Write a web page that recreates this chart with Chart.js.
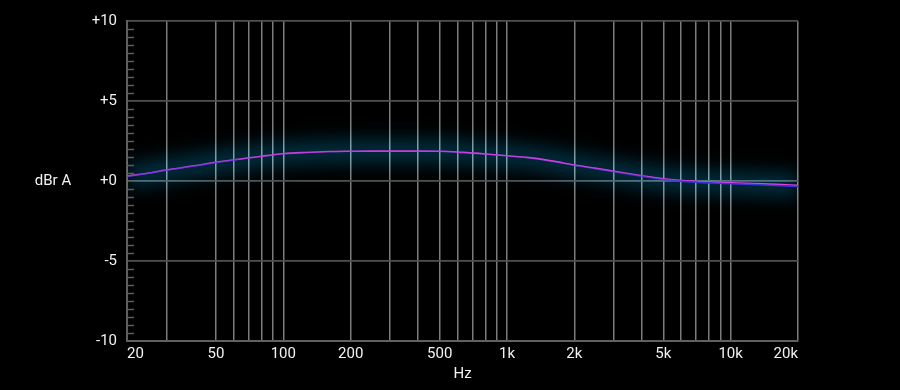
<!DOCTYPE html>
<html>
<head>
<meta charset="utf-8">
<script src="https://cdn.jsdelivr.net/npm/chart.js@4.4.1/dist/chart.umd.min.js"></script>
<style>
  html, body { margin: 0; padding: 0; background: #000; }
  #wrap { width: 900px; height: 390px; position: relative; }
</style>
</head>
<body>
<div id="wrap"><canvas id="fr"></canvas></div>
<script>
// frequency response, dBr A vs Hz
const freqs = [20, 25, 30, 40, 50, 63, 80, 100, 125, 160, 200, 250, 315, 400, 500, 630, 800,
  1000, 1250, 1600, 2000, 2500, 3150, 4000, 5000, 6300, 8000, 10000, 12500, 16000, 20000];
const leftCh = [0.30, 0.50, 0.69, 0.95, 1.17, 1.36, 1.55, 1.70, 1.78, 1.84, 1.86, 1.87, 1.87, 1.87, 1.86, 1.79, 1.69,
  1.58, 1.46, 1.24, 1.00, 0.79, 0.56, 0.33, 0.14, 0.02, -0.06, -0.11, -0.16, -0.21, -0.27];
const rightCh = [0.27, 0.48, 0.67, 0.94, 1.15, 1.34, 1.53, 1.69, 1.77, 1.83, 1.85, 1.86, 1.86, 1.86, 1.85, 1.77, 1.67,
  1.56, 1.43, 1.21, 0.97, 0.75, 0.52, 0.29, 0.09, -0.04, -0.12, -0.17, -0.22, -0.28, -0.34];

const gridFreqs = [20, 30, 50, 60, 70, 80, 90, 100, 200, 300, 400, 500, 600, 700, 800, 900,
  1000, 2000, 3000, 4000, 5000, 6000, 7000, 8000, 9000, 10000, 20000];
const labelFreqs = [20, 50, 100, 200, 500, 1000, 2000, 5000, 10000, 20000];
const labelTexts = ['20', '50', '100', '200', '500', '1k', '2k', '5k', '10k', '20k'];
const yTicks = [-10, -5, 0, 5, 10];
const yLabels = ['-10', '-5', '+0', '+5', '+10'];

const pts = arr => freqs.map((f, i) => ({ x: f, y: arr[i] }));

// right trace shows mostly at the top end, faintly below
function rightAlpha(f) {
  if (f < 60) return 0.55;
  if (f < 1500) return 0.2;
  if (f > 7000) return 1;
  return 0.2 + 0.8 * Math.log(f / 1500) / Math.log(7000 / 1500);
}

// blurred halo behind the traces
const glowPlugin = {
  id: 'glow',
  beforeDatasetDraw(chart, args) {
    if (args.meta._dataset.label !== 'glow') return;
    const ctx = chart.ctx;
    ctx.save();
    ctx.filter = 'blur(9px)';
    ctx.globalCompositeOperation = 'lighter';
  },
  afterDatasetDraw(chart, args) {
    if (args.meta._dataset.label !== 'glow') return;
    chart.ctx.restore();
  }
};

// small inner ticks on the dB axis + unrotated unit label
const decoPlugin = {
  id: 'deco',
  afterDatasetsDraw(chart) {
    const ctx = chart.ctx;
    const y = chart.scales.y;
    const a = chart.chartArea;
    ctx.save();
    ctx.strokeStyle = '#5c5c5c';
    ctx.lineWidth = 1.5;
    for (let v = -10; v <= 10; v += 0.5) {
      if (v % 5 === 0) continue;
      const py = Math.round(y.getPixelForValue(v)) + 0.5;
      ctx.beginPath();
      ctx.moveTo(a.left, py);
      ctx.lineTo(a.left + 7, py);
      ctx.stroke();
    }
    ctx.fillStyle = '#f2f2f2';
    ctx.font = '15px Roboto';
    ctx.textAlign = 'center';
    ctx.textBaseline = 'middle';
    ctx.fillText('dBr A', 53, y.getPixelForValue(0));
    ctx.restore();
  }
};

Chart.defaults.font.family = 'Roboto';
Chart.defaults.color = '#f2f2f2';

new Chart(document.getElementById('fr'), {
  type: 'line',
  data: {
    datasets: [
      {
        label: 'R',
        data: pts(rightCh),
        borderColor: '#3b34d6',
        borderWidth: 1.6,
        pointRadius: 0,
        cubicInterpolationMode: 'monotone',
        segment: {
          borderColor: c => 'rgba(59, 52, 214, ' + rightAlpha(c.p0.parsed.x).toFixed(2) + ')'
        },
        order: 1
      },
      {
        label: 'L',
        data: pts(leftCh),
        borderColor: '#e040e6',
        borderWidth: 1.6,
        pointRadius: 0,
        cubicInterpolationMode: 'monotone',
        order: 2
      },
      {
        label: 'glow',
        data: pts(leftCh),
        borderColor: 'rgba(0, 46, 62, 1)',
        borderWidth: 24,
        pointRadius: 0,
        cubicInterpolationMode: 'monotone',
        order: 3
      }
    ]
  },
  options: {
    responsive: true,
    maintainAspectRatio: false,
    animation: false,
    layout: { padding: { left: 0, top: 21, right: 102, bottom: 0 } },
    plugins: { legend: { display: false }, tooltip: { enabled: false } },
    scales: {
      x: {
        type: 'logarithmic',
        min: 20,
        max: 20000,
        afterBuildTicks: s => { s.ticks = gridFreqs.map(v => ({ value: v })); },
        afterFit: s => { s.height = 49; },
        ticks: {
          autoSkip: false,
          maxRotation: 0,
          padding: 4,
          align: 'inner',
          font: { size: 15 },
          callback: v => {
            const i = labelFreqs.indexOf(v);
            return i >= 0 ? labelTexts[i] : '';
          }
        },
        grid: { color: '#7c7c7c', lineWidth: 1.5, drawTicks: false },
        border: { color: '#606060', width: 2 },
        title: { display: true, text: 'Hz', font: { size: 15 }, padding: { top: 0, bottom: 7 } }
      },
      y: {
        min: -10,
        max: 10,
        afterBuildTicks: s => { s.ticks = yTicks.map(v => ({ value: v })); },
        afterFit: s => { s.width = 127; },
        ticks: {
          padding: 10,
          font: { size: 15 },
          callback: v => yLabels[yTicks.indexOf(v)]
        },
        grid: { color: '#505050', lineWidth: 1.8, drawTicks: false },
        border: { color: '#606060', width: 2 }
      }
    }
  },
  plugins: [glowPlugin, decoPlugin]
});
</script>
</body>
</html>
